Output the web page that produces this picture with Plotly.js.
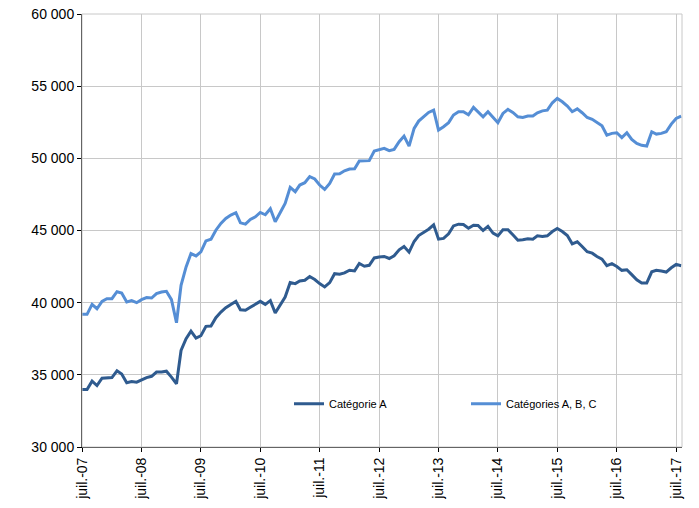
<!DOCTYPE html>
<html><head><meta charset="utf-8">
<script src="https://cdn.plot.ly/plotly-3.0.1.min.js"></script>
<style>body{margin:0}#plot{width:699px;height:508px}</style>
</head><body><div id="plot"></div>
<script>
var catA = [33980,33980,34560,34260,34770,34810,34810,35280,35050,34450,34540,34490,
34650,34810,34900,35190,35190,35250,34840,34380,36690,37500,38030,37540,
37710,38360,38380,38960,39350,39650,39880,40090,39510,39470,39680,39880,
40090,39880,40140,39280,39880,40390,41390,41320,41500,41550,41810,41600,
41320,41090,41390,42010,41970,42060,42250,42200,42710,42520,42590,43100,
43170,43200,43060,43250,43660,43890,43500,44240,44650,44880,45090,45390,
44400,44450,44770,45320,45440,45410,45160,45370,45350,45000,45280,44820,
44630,45050,45050,44700,44330,44360,44420,44400,44630,44590,44630,44930,
45140,44930,44650,44080,44220,43890,43530,43430,43200,43020,42560,42700,
42510,42240,42280,41940,41590,41360,41360,42140,42240,42190,42120,42420,
42650,42560];
var catABC = [39190,39190,39880,39580,40090,40280,40280,40760,40670,40050,40140,40000,
40210,40350,40320,40630,40740,40790,40210,38610,41200,42480,43400,43240,
43520,44280,44400,45020,45490,45830,46070,46230,45530,45440,45760,45950,
46250,46090,46510,45600,46250,46880,47990,47690,48150,48310,48730,48570,
48150,47850,48260,48910,48930,49140,49260,49280,49810,49840,49840,50510,
50600,50690,50530,50620,51150,51540,50850,52070,52580,52880,53180,53340,
51960,52190,52470,53000,53230,53230,53020,53530,53230,52880,53230,52830,
52470,53110,53390,53180,52880,52830,52930,52930,53160,53290,53340,53850,
54150,53920,53620,53230,53430,53160,52830,52700,52510,52260,51610,51730,
51770,51430,51770,51310,51040,50900,50850,51840,51680,51730,51840,52370,
52760,52930];
var months = [];
for (var i = 0; i < catA.length; i++) {
    var y = 2007 + Math.floor((6 + i) / 12), m = (6 + i) % 12 + 1;
    months.push(y + '-' + (m < 10 ? '0' + m : m) + '-01');
}
var yTicks = [30000,35000,40000,45000,50000,55000,60000];
var yLabels = ['30 000','35 000','40 000','45 000','50 000','55 000','60 000'];

var tr1 = {x: months, y: catA, name: 'Catégorie A', type: 'scatter', mode: 'lines',
    line: {color: '#2f5b8f', width: 3}};
var tr2 = {x: months, y: catABC, name: 'Catégories A, B, C', type: 'scatter', mode: 'lines',
    line: {color: '#558ed5', width: 3}};

var layout = {
    width: 699, height: 508,
    margin: {l: 82, r: 17, t: 14, b: 61},
    paper_bgcolor: 'white', plot_bgcolor: 'white',
    font: {family: 'Liberation Sans, Arial', size: 14, color: '#000'},
    showlegend: true,
    legend: {orientation: 'h', x: 0.345, y: 0.1, xanchor: 'left', yanchor: 'middle',
        font: {size: 11}, bgcolor: 'rgba(0,0,0,0)', entrywidth: 132, entrywidthmode: 'pixels'},
    xaxis: {type: 'date', range: ['2007-07-01', '2017-08-06'],
        tick0: '2007-07-01', dtick: 'M12', tickformat: 'juil.-%y', tickangle: -90,
        showgrid: true, gridcolor: '#c8c8c8', showline: true, linecolor: '#000',
        ticks: 'outside', ticklen: 4, tickcolor: '#000', zeroline: false},
    yaxis: {range: [30000, 60000], tickvals: yTicks, ticktext: yLabels,
        showgrid: true, gridcolor: '#c8c8c8', showline: true, linecolor: '#000',
        ticks: 'outside', ticklen: 4, tickcolor: '#000', zeroline: false},
    shapes: [{type: 'rect', xref: 'paper', yref: 'paper', x0: 0, x1: 1, y0: 0, y1: 1,
        line: {color: '#c8c8c8', width: 1}}]
};
Plotly.newPlot('plot', [tr1, tr2], layout, {displayModeBar: false});
</script></body></html>
